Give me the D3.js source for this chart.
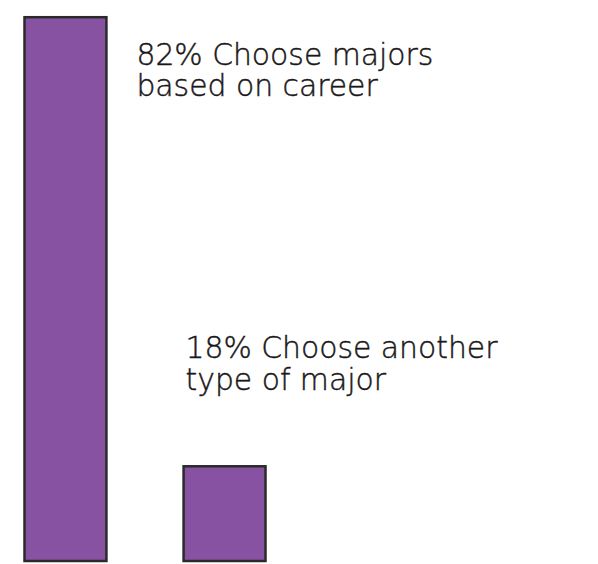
<!DOCTYPE html>
<html>
  <head>
    <meta charset="utf-8">
    <title>Choosing majors</title>
    <script src="https://d3js.org/d3.v7.min.js"></script>
    <style>
      body { margin: 0; background: #fff; }
      .label { font-family: "DejaVu Sans", sans-serif; font-weight: 200; fill: #1a1718; stroke: #1a1718; stroke-width: 0.45px; }
    </style>
  </head>
  <body>
    <div id="chart"></div>
    <script>
      var categories = ["career", "other"];
      var values = [82, 18];
      var labelLines = [
        ["82% Choose majors", "based on career"],
        ["18% Choose another", "type of major"]
      ];

      var width = 598;
      var height = 564;

      var svg = d3.select("#chart")
        .append("svg")
        .attr("width", width)
        .attr("height", height);

      var x = d3.scaleBand()
        .domain(categories)
        .range([24.5, 265.5])
        .paddingInner(0.485)
        .paddingOuter(0);

      // bars in the original are not drawn from zero
      var y = d3.scaleLinear()
        .domain([4.5, 82])
        .range([561, 17.2]);

      svg.selectAll("rect.bar")
        .data(values)
        .enter()
        .append("rect")
        .attr("class", "bar")
        .attr("x", function(d, i) { return x(categories[i]); })
        .attr("y", function(d) { return y(d); })
        .attr("width", x.bandwidth())
        .attr("height", function(d) { return y(4.5) - y(d); })
        .attr("fill", "#8652a1")
        .attr("stroke", "#2b2a2b")
        .attr("stroke-width", 2.5);

      // label positions relative to the bars
      var labelPos = [
        { x: x(categories[0]) + x.bandwidth() + 30, y: y(values[0]) + 47.5 },
        { x: x(categories[1]) + 2, y: y(values[1]) - 108 }
      ];

      var labels = svg.selectAll("text.label")
        .data(labelLines)
        .enter()
        .append("text")
        .attr("class", "label")
        .attr("x", function(d, i) { return labelPos[i].x; })
        .attr("y", function(d, i) { return labelPos[i].y; })
        .style("font-size", "28px");

      labels.selectAll("tspan")
        .data(function(d, i) { return d.map(function(t) { return { t: t, i: i }; }); })
        .enter()
        .append("tspan")
        .attr("x", function(d) { return labelPos[d.i].x; })
        .attr("dy", function(d, j) { return j === 0 ? 0 : 31.5; })
        .text(function(d) { return d.t; });

      // fit the first line to the width seen in the original (~297px)
      var w = labels.select("tspan").node().getComputedTextLength();
      var fs = 28 * 297 / w;
      labels.style("font-size", fs + "px");
    </script>
  </body>
</html>
